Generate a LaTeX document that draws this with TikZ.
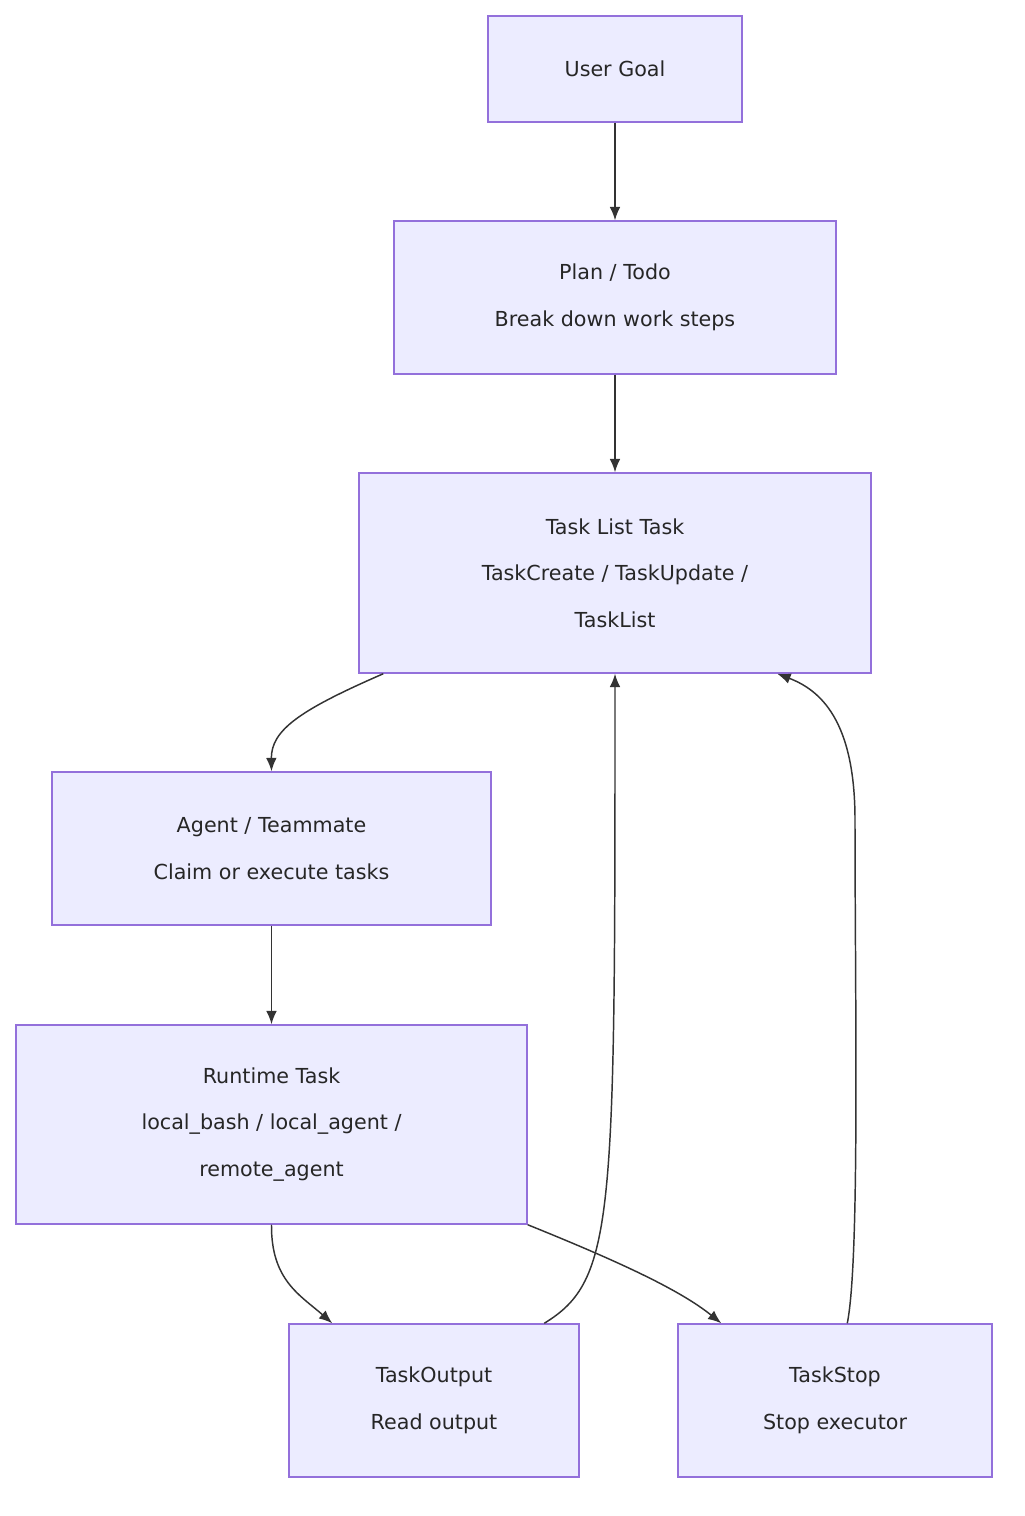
\documentclass[tikz,border=0pt]{standalone}
\usepackage{fontspec}
\setmainfont{DejaVu Sans}
\usetikzlibrary{calc,arrows.meta}
\definecolor{boxfill}{HTML}{ECECFF}
\definecolor{boxline}{HTML}{9370DB}
\definecolor{edge}{HTML}{333333}
\begin{document}
\begin{tikzpicture}[x=0.75pt,y=-0.75pt,
  box/.style={draw=boxline,fill=boxfill,line width=1.1pt,inner sep=0pt,align=center,
    font=\fontsize{15.5}{35}\selectfont,text=black!85},
  conn/.style={draw=edge,line width=1.1pt,-{Latex[length=10pt,width=8pt]}}]
\useasboundingbox (0,0) rectangle (1024,1516);
\node[box,minimum width=190.5pt,minimum height=79.5pt] (goal) at (615,69) {User Goal};
\node[box,minimum width=331.5pt,minimum height=114.75pt] (plan) at (615,297.5) {Plan / Todo\\Break down work steps};
\node[box,minimum width=384pt,minimum height=150pt] (tl) at (615,573) {Task List Task\\TaskCreate / TaskUpdate /\\TaskList};
\node[box,minimum width=329.25pt,minimum height=114.75pt] (ag) at (271.5,848.5) {Agent / Teammate\\Claim or execute tasks};
\node[box,minimum width=383.25pt,minimum height=149.25pt] (rt) at (271.5,1124.5) {Runtime Task\\local\_bash / local\_agent /\\remote\_agent};
\node[box,minimum width=217.5pt,minimum height=114.75pt] (to) at (434,1400.5) {TaskOutput\\Read output};
\node[box,minimum width=235.5pt,minimum height=114.75pt] (ts) at (835,1400.5) {TaskStop\\Stop executor};
\draw[conn] (goal) -- (plan);
\draw[conn] (plan) -- (tl);
\draw[conn] ($(tl.south west)+(25,0)$) .. controls (300,710) and (271,730) .. (ag.north);
\draw[conn] (ag) -- (rt);
\draw[conn] (rt.south) .. controls (271,1280) and (300,1295) .. ($(to.north west)+(44,0)$);
\draw[conn] (rt.south east) .. controls (620,1262) and (680,1290) .. ($(ts.north west)+(44,0)$);
\draw[conn] ($(to.north west)+(256,0)$) .. controls (615,1280) and (615,1220) .. (tl.south);
\draw[conn] ($(ts.north west)+(170,0)$) .. controls (860,1260) and (855,1000) .. (855,820) .. controls (855,720) and (820,690) .. ($(tl.south west)+(419,0)$);
\end{tikzpicture}
\end{document}
